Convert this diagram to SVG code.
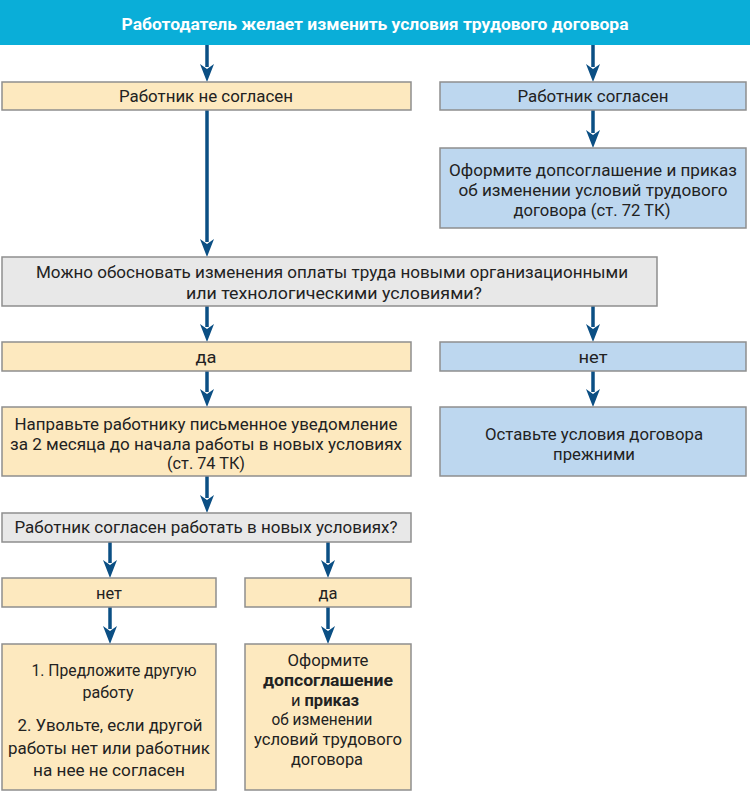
<svg xmlns="http://www.w3.org/2000/svg" width="750" height="794" viewBox="0 0 750 794">
<style>
.peach{fill:#fde9bf;stroke:#8e8e8e;stroke-width:1.5}
.blue{fill:#bdd7ef;stroke:#8e8e8e;stroke-width:1.5}
.gray{fill:#e8e8e8;stroke:#8e8e8e;stroke-width:1.5}
text{font-family:Roboto,"Liberation Sans",sans-serif;font-size:17px;fill:#222;text-anchor:middle}
.t2{font-size:16.5px}
.ban{fill:#fff;font-weight:bold;font-size:16px}
.b{font-weight:bold}
.ln{stroke:#0b4f84;stroke-width:3.5;fill:none}
</style>
<defs>
<marker id="ah" viewBox="0 0 18 14" refX="3" refY="7" markerWidth="18" markerHeight="14" markerUnits="userSpaceOnUse" orient="auto">
<path d="M0,0 L18,7 L0,14 L5,7 Z" fill="#0b4f84"/>
</marker>
</defs>
<g id="connectors">
<path class="ln" d="M207,45 V67" marker-end="url(#ah)"/>
<path class="ln" d="M593,45 V67" marker-end="url(#ah)"/>
<path class="ln" d="M593,110 V133" marker-end="url(#ah)"/>
<path class="ln" d="M207,110 V242" marker-end="url(#ah)"/>
<path class="ln" d="M207,306 V327" marker-end="url(#ah)"/>
<path class="ln" d="M593,306 V327" marker-end="url(#ah)"/>
<path class="ln" d="M207,371 V392" marker-end="url(#ah)"/>
<path class="ln" d="M593,371 V392" marker-end="url(#ah)"/>
<path class="ln" d="M207,476 V498" marker-end="url(#ah)"/>
<path class="ln" d="M110,542 V563" marker-end="url(#ah)"/>
<path class="ln" d="M328,542 V563" marker-end="url(#ah)"/>
<path class="ln" d="M110,607 V629" marker-end="url(#ah)"/>
<path class="ln" d="M328,607 V629" marker-end="url(#ah)"/>
</g>
<g id="banner">
<rect x="0" y="0" width="750" height="45" fill="#0aaed8"/>
<text class="ban" x="375" y="30" textLength="507" lengthAdjust="spacingAndGlyphs">Работодатель желает изменить условия трудового договора</text>
</g>
<g id="n1">
<rect class="peach" x="2" y="82" width="409" height="28"/>
<text x="206" y="102" textLength="174" lengthAdjust="spacingAndGlyphs">Работник не согласен</text>
</g>
<g id="n2">
<rect class="blue" x="440" y="82" width="306" height="28"/>
<text x="593" y="102" textLength="151" lengthAdjust="spacingAndGlyphs">Работник согласен</text>
</g>
<g id="n3">
<rect class="blue" x="440" y="148" width="306" height="80"/>
<text x="593" y="176" textLength="288" lengthAdjust="spacingAndGlyphs">Оформите допсоглашение и приказ</text>
<text x="593" y="196" textLength="269" lengthAdjust="spacingAndGlyphs">об изменении условий трудового</text>
<text x="592" y="216" textLength="157" lengthAdjust="spacingAndGlyphs">договора (ст. 72 ТК)</text>
</g>
<g id="n4">
<rect class="gray" x="2" y="257" width="655" height="49"/>
<text x="332" y="278" textLength="592" lengthAdjust="spacingAndGlyphs">Можно обосновать изменения оплаты труда новыми организационными</text>
<text x="334" y="299" textLength="296" lengthAdjust="spacingAndGlyphs">или технологическими условиями?</text>
</g>
<g id="n5">
<rect class="peach" x="2" y="342" width="409" height="29"/>
<text x="206" y="363" textLength="21" lengthAdjust="spacingAndGlyphs">да</text>
</g>
<g id="n6">
<rect class="blue" x="440" y="342" width="306" height="29"/>
<text x="593" y="363" textLength="29" lengthAdjust="spacingAndGlyphs">нет</text>
</g>
<g id="n7">
<rect class="peach" x="2" y="407" width="409" height="69"/>
<text x="206" y="430" textLength="383" lengthAdjust="spacingAndGlyphs">Направьте работнику письменное уведомление</text>
<text x="206" y="450" textLength="392" lengthAdjust="spacingAndGlyphs">за 2 месяца до начала работы в новых условиях</text>
<text x="206" y="469" textLength="78" lengthAdjust="spacingAndGlyphs">(ст. 74 ТК)</text>
</g>
<g id="n8">
<rect class="blue" x="440" y="407" width="306" height="69"/>
<text x="594" y="440" textLength="218" lengthAdjust="spacingAndGlyphs">Оставьте условия договора</text>
<text x="594" y="460" textLength="82" lengthAdjust="spacingAndGlyphs">прежними</text>
</g>
<g id="n9">
<rect class="gray" x="2" y="513" width="409" height="29"/>
<text x="206" y="533" textLength="383" lengthAdjust="spacingAndGlyphs">Работник согласен работать в новых условиях?</text>
</g>
<g id="n10">
<rect class="peach" x="2" y="578" width="214" height="29"/>
<text class="t2" x="109" y="599" textLength="26" lengthAdjust="spacingAndGlyphs">нет</text>
</g>
<g id="n11">
<rect class="peach" x="245" y="578" width="166" height="29"/>
<text class="t2" x="328" y="599" textLength="19" lengthAdjust="spacingAndGlyphs">да</text>
</g>
<g id="n12">
<rect class="peach" x="2" y="644" width="214" height="146"/>
<text class="t2" x="114" y="676" textLength="165" lengthAdjust="spacingAndGlyphs">1. Предложите другую</text>
<text class="t2" x="108" y="698" textLength="51" lengthAdjust="spacingAndGlyphs">работу</text>
<text class="t2" x="110" y="731" textLength="185" lengthAdjust="spacingAndGlyphs">2. Увольте, если другой</text>
<text class="t2" x="109" y="754" textLength="202" lengthAdjust="spacingAndGlyphs">работы нет или работник</text>
<text class="t2" x="109" y="776" textLength="152" lengthAdjust="spacingAndGlyphs">на нее не согласен</text>
</g>
<g id="n13">
<rect class="peach" x="245" y="644" width="166" height="146"/>
<text class="t2" x="328" y="666" textLength="81" lengthAdjust="spacingAndGlyphs">Оформите</text>
<text class="t2 b" x="328" y="686" textLength="130" lengthAdjust="spacingAndGlyphs">допсоглашение</text>
<text class="t2" x="325" y="706">и <tspan class="b">приказ</tspan></text>
<text class="t2" x="322" y="725" textLength="101" lengthAdjust="spacingAndGlyphs">об изменении</text>
<text class="t2" x="328" y="745" textLength="148" lengthAdjust="spacingAndGlyphs">условий трудового</text>
<text class="t2" x="327" y="765" textLength="72" lengthAdjust="spacingAndGlyphs">договора</text>
</g>
</svg>
